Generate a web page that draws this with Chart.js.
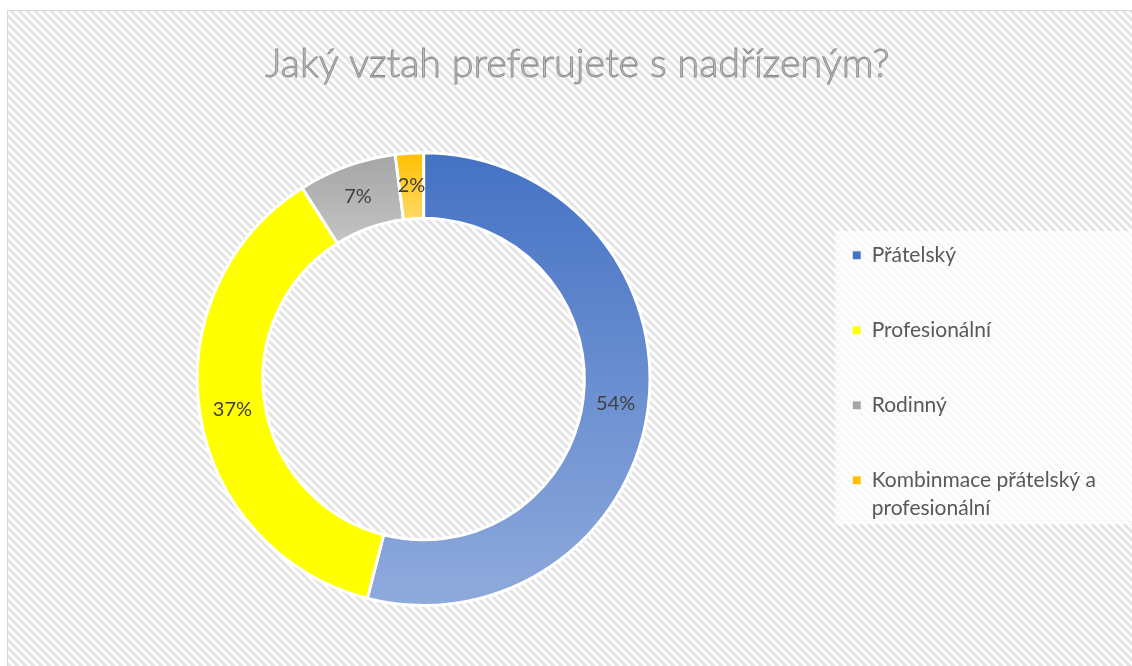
<!DOCTYPE html>
<html>
<head>
<meta charset="utf-8">
<script src="https://cdn.jsdelivr.net/npm/chart.js@4.4.0/dist/chart.umd.min.js"></script>
<style>
    html, body { margin: 0; padding: 0; background: #fff; }
    #wrap { width: 1132px; height: 666px; position: relative; }
</style>
</head>
<body>
<div id="wrap"><canvas id="ChVztah"></canvas></div>
<script>
// data
const Kategorie = ['Přátelský', 'Profesionální', 'Rodinný', 'Kombinmace přátelský a profesionální'];
const Hodnoty = [54, 37, 7, 2];
const Titulek = 'Jaký vztah preferujete s nadřízeným?';

const BarvyHorni = ['#4472C4', '#FFFF00', '#A5A5A5', '#FFC000'];
const BarvyDolni = ['#8FAADC', '#FFFF00', '#C4C4C4', '#FFD966'];

const FONT = 'Lato, "Open Sans", sans-serif';

// hatch tile for the background
const MakeHatch = () => {
    const c = document.createElement('canvas');
    c.width = 8; c.height = 8;
    const g = c.getContext('2d');
    const img = g.createImageData(8, 8);
    const prof = [226, 229, 240, 255, 255, 255, 240, 229];
    for (let y = 0; y < 8; y++) {
        for (let x = 0; x < 8; x++) {
            const d = ((x - y) % 8 + 8) % 8;
            const k = (y * 8 + x) * 4;
            img.data[k] = img.data[k + 1] = img.data[k + 2] = prof[d];
            img.data[k + 3] = 255;
        }
    }
    g.putImageData(img, 0, 0);
    return c;
};
const HatchTile = MakeHatch();

// vertical gradient per segment, from the arc element geometry
const SegmentFill = (ctx) => {
    const i = ctx.dataIndex;
    const el = ctx.element;
    if (!el || el.outerRadius === undefined || isNaN(el.startAngle)) return BarvyHorni[i];
    let minY = Infinity, maxY = -Infinity;
    for (let s = 0; s <= 40; s++) {
        const a = el.startAngle + (el.endAngle - el.startAngle) * s / 40;
        [el.outerRadius, el.innerRadius].forEach((r) => {
            const y = el.y + r * Math.sin(a);
            minY = Math.min(minY, y);
            maxY = Math.max(maxY, y);
        });
    }
    const gr = ctx.chart.ctx.createLinearGradient(0, minY, 0, maxY);
    gr.addColorStop(0, BarvyHorni[i]);
    gr.addColorStop(1, BarvyDolni[i]);
    return gr;
};

const WrapText = (text, maxChars) => {
    const words = text.split(' ');
    const lines = [];
    let cur = '';
    words.forEach((w) => {
        if (cur && (cur + ' ' + w).length > maxChars) {
            lines.push(cur);
            cur = w;
        } else {
            cur = cur ? cur + ' ' + w : w;
        }
    });
    lines.push(cur);
    return lines.length > 1 ? lines : lines[0];
};

const PozadiPlugin = {
    id: 'pozadi',
    beforeDraw(chart) {
        const c = chart.ctx;
        c.save();
        c.fillStyle = '#fff';
        c.fillRect(0, 0, chart.width, chart.height);
        c.fillStyle = c.createPattern(HatchTile, 'repeat');
        c.fillRect(8, 11, chart.width - 8, chart.height - 11);
        c.strokeStyle = '#D9D9D9';
        c.lineWidth = 1;
        c.strokeRect(7.5, 10.5, chart.width + 10, chart.height + 10);
        // legend panel
        const lg = chart.legend;
        if (lg && lg.legendHitBoxes && lg.legendHitBoxes.length) {
            const hb = lg.legendHitBoxes;
            const top = hb[0].top - 14;
            const last = hb[hb.length - 1];
            const bottom = last.top + last.height - 2;
            const left = hb[0].left - 17;
            c.fillStyle = 'rgba(255,255,255,0.7)';
            c.fillRect(left, top, chart.width - left, bottom - top);
        }
        c.restore();
    }
};

const TitulekObrys = {
    id: 'titulekObrys',
    afterDraw(chart) {
        const tb = chart.titleBlock;
        const o = chart.options.plugins.title;
        const f = Chart.helpers.toFont(o.font);
        const pad = Chart.helpers.toPadding(o.padding);
        const c = chart.ctx;
        c.save();
        c.font = f.string;
        c.textAlign = 'center';
        c.textBaseline = 'middle';
        c.lineWidth = 0.8;
        c.strokeStyle = '#888888';
        c.strokeText(o.text, (tb.left + tb.right) / 2, tb.top + pad.top + f.lineHeight / 2);
        c.restore();
    }
};

const PopiskyPlugin = {
    id: 'popisky',
    afterDatasetsDraw(chart) {
        const c = chart.ctx;
        const meta = chart.getDatasetMeta(0);
        c.save();
        c.font = '20px ' + FONT;
        c.fillStyle = '#404040';
        c.textAlign = 'center';
        c.textBaseline = 'middle';
        meta.data.forEach((arc, i) => {
            const p = arc.tooltipPosition();
            c.fillText(Hodnoty[i] + '%', p.x, p.y);
        });
        c.restore();
    }
};

const ctx = document.getElementById('ChVztah');
const ChVztah = new Chart(ctx, {
    type: 'doughnut',
    data: {
        labels: Kategorie,
        datasets: [{
            data: Hodnoty,
            backgroundColor: SegmentFill,
            borderColor: '#ffffff',
            borderWidth: 3
        }]
    },
    options: {
        responsive: true,
        maintainAspectRatio: false,
        animation: false,
        cutout: '71%',
        layout: { padding: { top: 10, left: 49, right: 26, bottom: 59 } },
        plugins: {
            title: {
                display: true,
                text: Titulek,
                color: '#BDBDBD',
                font: { family: FONT, size: 39.5, weight: 300, lineHeight: 1.2 },
                padding: { top: 31, bottom: 62.8 }
            },
            legend: {
                position: 'right',
                align: 'center',
                title: {
                    display: true,
                    text: '',
                    font: { size: 12, lineHeight: 1.2 },
                    padding: { top: 0, bottom: 140 }
                },
                labels: {
                    boxWidth: 9,
                    boxHeight: 9,
                    padding: 54,
                    color: '#595959',
                    font: { family: FONT, size: 21, lineHeight: 1.35 },
                    generateLabels: (chart) => {
                        const items = Chart.overrides.doughnut.plugins.legend.labels.generateLabels(chart);
                        return items.map((it, i) => Object.assign(it, {
                            text: WrapText(Kategorie[i], 24),
                            fillStyle: BarvyHorni[i],
                            strokeStyle: '#ffffff',
                            lineWidth: 1
                        }));
                    }
                }
            },
            tooltip: { enabled: false }
        }
    },
    plugins: [PozadiPlugin, TitulekObrys, PopiskyPlugin]
});
ChVztah.update('none');
</script>
</body>
</html>
